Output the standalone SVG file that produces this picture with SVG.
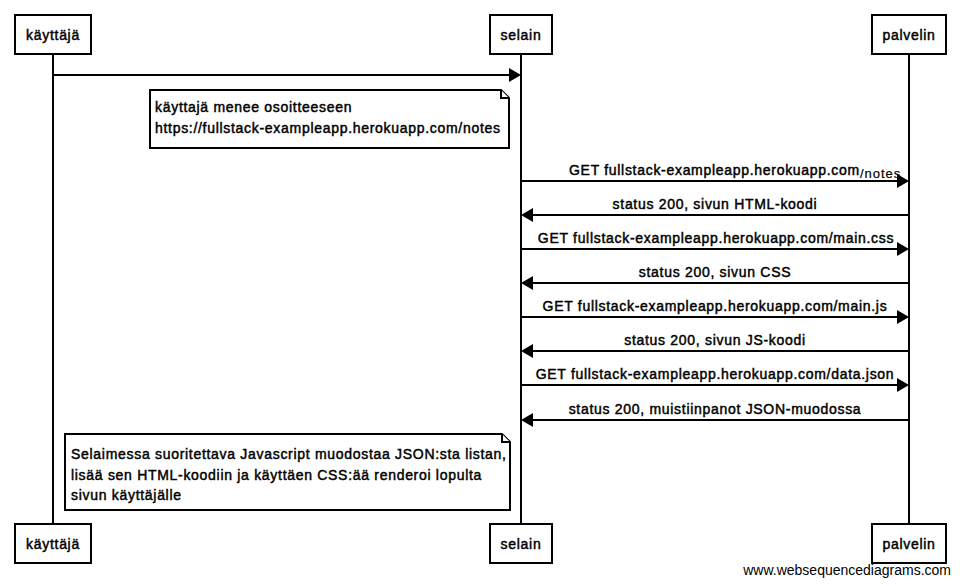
<svg xmlns="http://www.w3.org/2000/svg" width="960" height="586" viewBox="0 0 960 586">
<defs>
<style>
.box{fill:#fff;stroke:#000;stroke-width:2}
.life{stroke:#000;stroke-width:2;fill:none}
.msg{stroke:#000;stroke-width:2;fill:none;marker-end:url(#ah)}
.note{fill:#fff;stroke:#000;stroke-width:2;stroke-linejoin:miter}
.t{font-family:"Liberation Sans",Arial,Helvetica,sans-serif;font-size:14px;letter-spacing:0.7px;fill:#000;stroke:#000;stroke-width:0.45px}
.c{text-anchor:middle}
.wm{font-family:"Liberation Sans",Arial,Helvetica,sans-serif;font-size:14px;fill:#000;text-anchor:end}
</style>
<marker id="ah" viewBox="0 0 12 14" refX="10" refY="7" markerWidth="12" markerHeight="14" orient="auto" markerUnits="userSpaceOnUse">
<path d="M0,0 L12,7 L0,14 Z" fill="#000"/>
</marker>
</defs>
<rect width="960" height="586" fill="#fff"/>

<g id="lifelines">
<line class="life" x1="53" y1="54" x2="53" y2="524"/>
<line class="life" x1="521" y1="54" x2="521" y2="524"/>
<line class="life" x1="909" y1="54" x2="909" y2="524"/>
</g>

<g id="kayttaja-top"><rect class="box" x="15" y="15" width="76" height="39"/><text class="t c" x="53" y="40">käyttäjä</text></g>
<g id="selain-top"><rect class="box" x="490" y="15" width="62" height="39"/><text class="t c" x="521" y="40">selain</text></g>
<g id="palvelin-top"><rect class="box" x="872" y="15" width="74" height="39"/><text class="t c" x="909" y="40">palvelin</text></g>

<g id="kayttaja-bottom"><rect class="box" x="15" y="524" width="76" height="39"/><text class="t c" x="53" y="549">käyttäjä</text></g>
<g id="selain-bottom"><rect class="box" x="490" y="524" width="62" height="39"/><text class="t c" x="521" y="549">selain</text></g>
<g id="palvelin-bottom"><rect class="box" x="872" y="524" width="74" height="39"/><text class="t c" x="909" y="549">palvelin</text></g>

<g id="note1">
<path class="note" d="M150,90 H501 L509,98 V148 H150 Z"/>
<path class="note" d="M501,90 V98 H509"/>
<text class="t" x="155" y="112">käyttajä menee osoitteeseen</text>
<text class="t" x="155" y="133">https://fullstack-exampleapp.herokuapp.com/notes</text>
</g>

<g id="note2">
<path class="note" d="M65,434 H502 L510,442 V510 H65 Z"/>
<path class="note" d="M502,434 V442 H510"/>
<text class="t" x="71" y="459">Selaimessa suoritettava Javascript muodostaa JSON:sta listan,</text>
<text class="t" x="71" y="480">lisää sen HTML-koodiin ja käyttäen CSS:ää renderoi lopulta</text>
<text class="t" x="71" y="500">sivun käyttäjälle</text>
</g>

<g id="connectors">
<line class="msg" x1="53" y1="75" x2="519" y2="75"/>
<line class="msg" x1="521" y1="181" x2="907" y2="181"/>
<line class="msg" x1="909" y1="215" x2="523" y2="215"/>
<line class="msg" x1="521" y1="249" x2="907" y2="249"/>
<line class="msg" x1="909" y1="283" x2="523" y2="283"/>
<line class="msg" x1="521" y1="317" x2="907" y2="317"/>
<line class="msg" x1="909" y1="351" x2="523" y2="351"/>
<line class="msg" x1="521" y1="385" x2="907" y2="385"/>
<line class="msg" x1="909" y1="420" x2="523" y2="420"/>
</g>

<g id="labels">
<text class="t" x="569" y="175">GET fullstack-exampleapp.herokuapp.com<tspan font-size="13" letter-spacing="1px" stroke-width="0.2" dy="3">/notes</tspan></text>
<text class="t c" x="715" y="209">status 200, sivun HTML-koodi</text>
<text class="t c" x="716" y="243">GET fullstack-exampleapp.herokuapp.com/main.css</text>
<text class="t c" x="715" y="277">status 200, sivun CSS</text>
<text class="t c" x="715" y="311">GET fullstack-exampleapp.herokuapp.com/main.js</text>
<text class="t c" x="715" y="345">status 200, sivun JS-koodi</text>
<text class="t c" x="715" y="379">GET fullstack-exampleapp.herokuapp.com/data.json</text>
<text class="t c" x="715" y="414">status 200, muistiinpanot JSON-muodossa</text>
</g>

<text class="wm" x="951" y="575">www.websequencediagrams.com</text>
</svg>
